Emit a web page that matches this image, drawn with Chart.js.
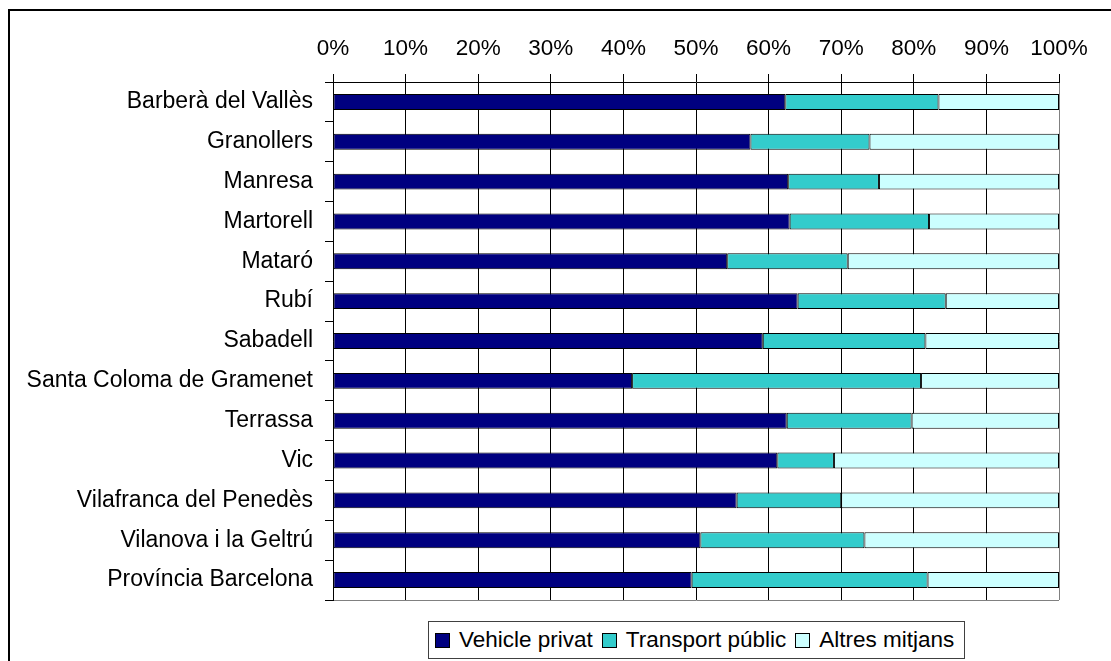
<!DOCTYPE html>
<html>
<head>
<meta charset="utf-8">
<title>Mitjà de transport</title>
<script src="https://cdn.jsdelivr.net/npm/chart.js@4/dist/chart.umd.min.js"></script>
<style>
    html, body { margin: 0; padding: 0; background: #ffffff; }
    #wrap { position: relative; width: 1111px; height: 661px; overflow: hidden; }
    #legend {
        position: absolute;
        top: 621px;
        height: 38px;
        box-sizing: border-box;
        border: 1px solid #404040;
        background: #ffffff;
        display: flex;
        align-items: center;
        padding: 0 10px 0 6px;
        font-family: 'Liberation Sans', Arial, sans-serif;
        font-size: 22.5px;
        color: #000000;
        white-space: nowrap;
    }
    #legend .item { display: flex; align-items: center; }
    #legend .item + .item { margin-left: 9px; }
    #legend .swatch {
        width: 13px;
        height: 13px;
        border: 1px solid #000000;
        margin-right: 9px;
    }
</style>
</head>
<body>
<div id="wrap">
    <canvas id="modalChart"></canvas>
    <div id="legend"></div>
</div>
<script>
/* ===============================
   DATA
=============================== */

const municipis = [
    "Barberà del Vallès",
    "Granollers",
    "Manresa",
    "Martorell",
    "Mataró",
    "Rubí",
    "Sabadell",
    "Santa Coloma de Gramenet",
    "Terrassa",
    "Vic",
    "Vilafranca del Penedès",
    "Vilanova i la Geltrú",
    "Província Barcelona"
];

const vehiclePrivat   = [62.3, 57.5, 62.7, 62.9, 54.3, 64.0, 59.2, 41.2, 62.5, 61.2, 55.6, 50.6, 49.4];
const transportPublic = [21.1, 16.4, 12.5, 19.2, 16.6, 20.4, 22.4, 39.8, 17.2,  7.8, 14.4, 22.6, 32.5];
const altresMitjans   = [16.6, 26.1, 24.8, 17.9, 29.1, 15.6, 18.4, 19.0, 20.3, 31.0, 30.0, 26.8, 18.1];

const percentTicks = [0, 10, 20, 30, 40, 50, 60, 70, 80, 90, 100];

/* ===============================
   STYLE
=============================== */

const FONT = "'Liberation Sans', Arial, sans-serif";
const FONT_SIZE = 22.5;

/* ===============================
   PLUGINS
=============================== */

// outer frame around the whole chart
const frame = {
    id: "frame",
    afterDraw(chart) {
        const ctx = chart.ctx;
        ctx.save();
        ctx.strokeStyle = "#000000";
        ctx.lineWidth = 2;
        ctx.strokeRect(9, 10, chart.width + 20, chart.height + 20);
        ctx.restore();
    }
};

/* ===============================
   CHART
=============================== */

function barSet(label, values, color) {
    return {
        label: label,
        data: values,
        backgroundColor: color,
        borderColor: "#000000",
        borderWidth: 1,
        borderSkipped: false,
        barPercentage: 0.4,
        categoryPercentage: 1.0
    };
}

const modalChart = new Chart(document.getElementById("modalChart"), {

    type: "bar",

    data: {
        labels: municipis,
        datasets: [
            barSet("Vehicle privat", vehiclePrivat, "#000080"),
            barSet("Transport públic", transportPublic, "#33CCCC"),
            barSet("Altres mitjans", altresMitjans, "#CCFFFF")
        ]
    },

    options: {
        indexAxis: "y",
        responsive: true,
        maintainAspectRatio: false,
        animation: false,
        layout: {
            padding: { left: 0, right: 52, top: 0, bottom: 61 }
        },
        plugins: {
            legend: { display: false },
            tooltip: { enabled: false }
        },
        scales: {
            x: {
                position: "top",
                stacked: true,
                min: 0,
                max: 100,
                afterBuildTicks: scale => {
                    scale.ticks = percentTicks.map(v => ({ value: v }));
                },
                afterFit: scale => { scale.height = 82; },
                ticks: {
                    padding: 12,
                    color: "#000000",
                    font: { family: FONT, size: FONT_SIZE },
                    maxRotation: 0,
                    callback: v => v + "%"
                },
                grid: {
                    color: ctx => ctx.index === percentTicks.length - 1 ? "#808080" : "#000000",
                    tickColor: "#000000",
                    tickLength: 8,
                    lineWidth: 1
                },
                border: { display: true, color: "#000000", width: 1 }
            },
            y: {
                stacked: true,
                afterFit: scale => { scale.width = 333; },
                ticks: {
                    padding: 12,
                    color: "#000000",
                    font: { family: FONT, size: 23 }
                },
                grid: {
                    offset: true,
                    drawOnChartArea: true,
                    color: ctx => ctx.type === "tick" ? "rgba(0,0,0,0)" : "#808080",
                    tickColor: "#000000",
                    tickLength: 8
                },
                border: { display: true, color: "#000000", width: 1 }
            }
        }
    },

    plugins: [frame]

});

/* ===============================
   LEGEND (built from the datasets)
=============================== */

function buildLegend(chart) {

    const box = document.getElementById("legend");

    box.innerHTML = "";

    chart.data.datasets.forEach(ds => {

        const item = document.createElement("span");
        item.className = "item";

        const swatch = document.createElement("span");
        swatch.className = "swatch";
        swatch.style.background = ds.backgroundColor;

        const text = document.createElement("span");
        text.textContent = ds.label;

        item.appendChild(swatch);
        item.appendChild(text);
        box.appendChild(item);

    });

    // centred under the plot area
    const area = chart.chartArea;
    const mid = (area.left + area.right) / 2;
    box.style.left = Math.round(mid - box.offsetWidth / 2) + "px";

}

buildLegend(modalChart);
</script>
</body>
</html>
